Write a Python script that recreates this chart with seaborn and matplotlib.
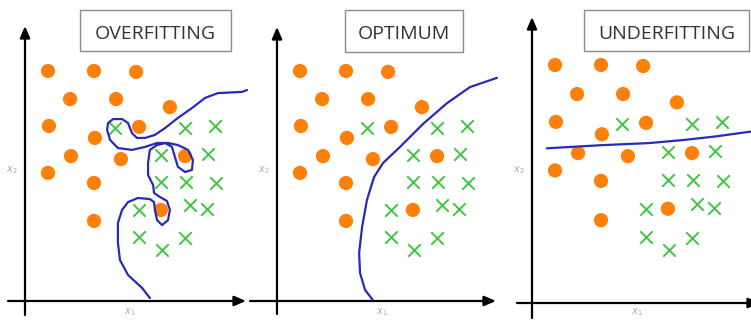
import numpy as np
import pandas as pd
import matplotlib
matplotlib.use('Agg')
import matplotlib.pyplot as plt
from matplotlib.patches import Rectangle
import seaborn as sns

# data (grid units, same point cloud in every panel)
orange_x = [1.0, 3.0, 4.83, 1.96, 3.96, 6.30, 1.04, 4.96, 3.04, 2.0, 4.17, 6.96, 1.0, 3.0, 5.91, 3.0]
orange_y = [10.0, 10.0, 9.96, 8.78, 8.78, 8.43, 7.61, 7.57, 7.09, 6.30, 6.17, 6.30, 5.57, 5.13, 3.96, 3.48]
green_x = [3.91, 6.96, 8.26, 5.91, 7.96, 5.91, 7.0, 8.30, 7.17, 7.91, 4.96, 4.96, 6.96, 5.96]
green_y = [7.52, 7.52, 7.61, 6.35, 6.39, 5.17, 5.17, 5.13, 4.17, 4.0, 3.96, 2.78, 2.74, 2.22]

# decision boundaries
over_x = [9.65, 9.43, 8.39, 7.83, 7.26, 6.65, 6.09, 5.65, 5.22, 4.87, 4.65, 4.48, 4.22, 3.83,
          3.61, 3.57, 3.70, 4.04, 4.65, 5.22, 5.74, 6.22, 6.65, 7.09, 7.30, 7.26, 6.96, 6.65,
          6.52, 6.39, 6.09, 5.74, 5.43, 5.35, 5.35, 5.57, 5.61, 5.87, 6.17, 6.30, 6.22, 5.96,
          5.74, 5.65, 5.61, 5.43, 4.91, 4.48, 4.22, 4.04, 4.04, 4.13, 4.48, 5.09, 5.43]
over_y = [9.17, 9.09, 9.04, 8.83, 8.39, 7.96, 7.52, 7.22, 7.09, 7.09, 7.30, 7.74, 7.91, 7.91,
          7.74, 7.43, 7.00, 6.65, 6.57, 6.70, 6.87, 6.87, 6.78, 6.57, 6.13, 5.70, 5.61, 5.83,
          6.26, 6.70, 6.87, 6.78, 6.57, 6.00, 5.48, 5.04, 4.70, 4.52, 4.35, 3.96, 3.52, 3.30,
          3.52, 3.96, 4.30, 4.43, 4.48, 4.30, 3.96, 3.39, 2.52, 1.78, 1.13, 0.57, 0.13]
opt_x = [4.17, 3.83, 3.61, 3.57, 3.70, 3.91, 4.22, 4.61, 5.35, 6.35, 7.39, 8.39, 9.56]
opt_y = [0.04, 0.48, 1.22, 2.09, 3.22, 4.39, 5.39, 6.0, 6.7, 7.7, 8.6, 9.3, 9.7]
under_x = [0.65, 3.0, 5.1, 6.6, 8.0, 9.5]
under_y = [6.5, 6.63, 6.72, 6.85, 7.0, 7.2]

titles = ['OVERFITTING', 'OPTIMUM', 'UNDERFITTING']
curves = [(over_x, over_y), (opt_x, opt_y), (under_x, under_y)]

ORANGE = '#ff8008'
GREEN = '#3cc83c'
BLUE = '#2a2ab4'

W, H = 751, 322
fig = plt.figure(figsize=(W / 100, H / 100), dpi=100)
sns.set_style('white')
plt.rcParams['font.family'] = ['Open Sans', 'DejaVu Sans']

# panel layout in pixels: left, width, origin x, origin y, px per unit (y)
panels = [(0, 250, 25, 301, 23.0), (250, 250, 277, 301, 23.0), (500, 251, 532, 303, 23.8)]
# title boxes: x0, y0, x1, y1 in pixels
boxes = [(80, 10, 231, 51), (345, 10, 463, 52), (584, 10, 749, 51)]
# axis extents in pixels: x-axis start, x-axis tip, y-axis bottom, y-axis tip
extents = [(8, 246, 315, 26), (250, 496, 314, 27), (517, 760, 318, 17)]

for i, (left, width, ox, oy, sy) in enumerate(panels):
    ax = fig.add_axes([left / W, 0, width / W, 1])
    sx = 23.0
    ax.set_xlim((left - ox) / sx, (left + width - ox) / sx)
    ax.set_ylim((oy - H) / sy, oy / sy)
    ax.set_axis_off()

    xs, xe, yb, yt = extents[i]
    ax.annotate('', xy=((xe - ox) / sx, 0), xytext=((xs - ox) / sx, 0),
                arrowprops=dict(arrowstyle='-|>,head_length=0.7,head_width=0.3',
                                lw=1.6, color='black', shrinkA=0, shrinkB=0),
                annotation_clip=False)
    ax.annotate('', xy=(0, (oy - yt) / sy), xytext=(0, (oy - yb) / sy),
                arrowprops=dict(arrowstyle='-|>,head_length=0.7,head_width=0.3',
                                lw=1.6, color='black', shrinkA=0, shrinkB=0),
                annotation_clip=False)

    sns.scatterplot(x=orange_x, y=orange_y, ax=ax, color=ORANGE, s=105,
                    edgecolor='none', zorder=3)
    sns.scatterplot(x=green_x, y=green_y, ax=ax, color=GREEN, marker='x', s=80,
                    linewidth=1.4, zorder=3)
    cx, cy = curves[i]
    sns.lineplot(x=cx, y=cy, ax=ax, sort=False, estimator=None, color=BLUE,
                 lw=1.6, zorder=4)

    ax.text((ox + 105 - ox) / sx, (oy - 312) / sy, '$x_1$', fontsize=7,
            color='#aaaaaa', ha='center', va='center')
    ax.text((ox - 13 - ox) / sx, (oy - 170) / sy, '$x_2$', fontsize=7,
            color='#aaaaaa', ha='center', va='center')

    x0, y0, x1, y1 = boxes[i]
    fig.patches.append(Rectangle((x0 / W, 1 - y1 / H), (x1 - x0) / W, (y1 - y0) / H,
                                 transform=fig.transFigure, fill=False,
                                 edgecolor='#8a8a8a', lw=1.0))
    fig.text((x0 + x1) / 2 / W, 1 - 34 / H, titles[i], fontsize=14,
             color='#333333', ha='center', va='center')

fig.savefig('out.png', dpi=100, facecolor='white')
